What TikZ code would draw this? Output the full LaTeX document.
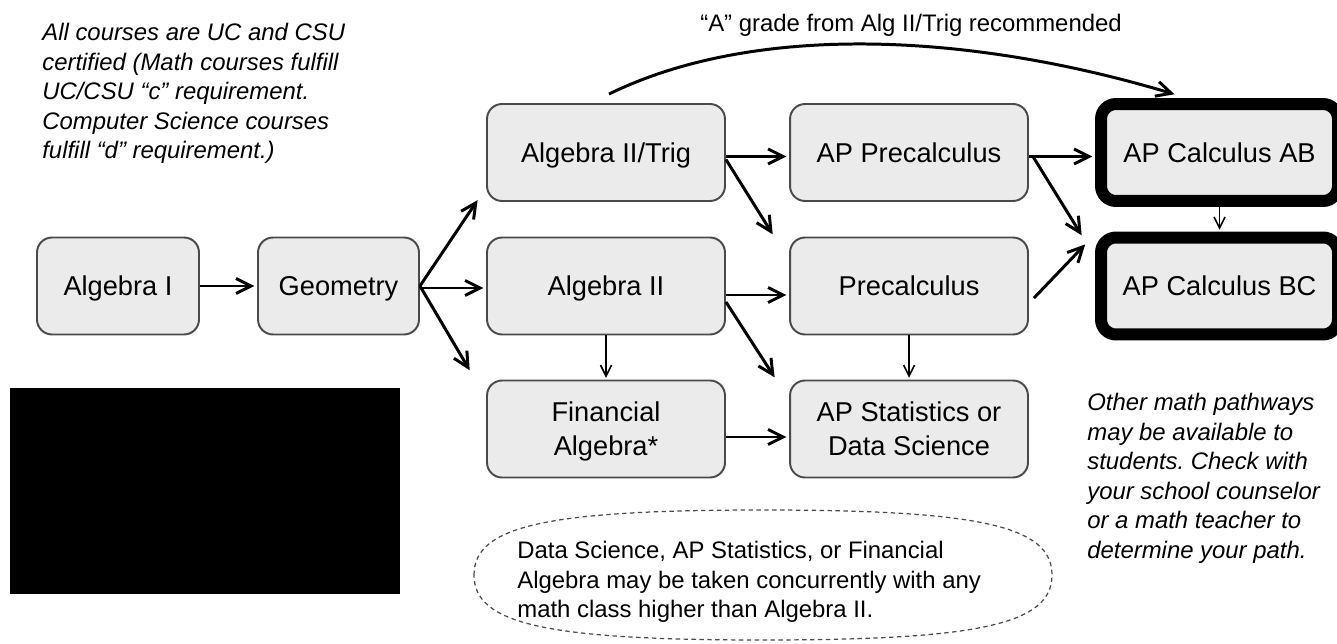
\documentclass[tikz,border=0pt]{standalone}
\usepackage{fontspec}
\setmainfont{Liberation Sans}
\frenchspacing
\usetikzlibrary{arrows.meta,calc}
\definecolor{boxfill}{HTML}{EBEBEB}
\definecolor{boxline}{HTML}{4A4A4A}
\tikzstyle{course}=[draw=boxline,fill=boxfill,line width=1.1pt,rounded corners=0.3cm,minimum width=4.76cm,minimum height=1.94cm,align=center,inner sep=2pt,text depth=0pt,font=\fontsize{15.5}{19.3}\selectfont]
\tikzstyle{calc course}=[course,draw=black,line width=0.24cm,minimum width=4.74cm]
\tikzstyle{edge}=[draw,line width=1.7pt,shorten >=1.5pt,-{Straight Barb[length=0.3cm,width=0.3cm]}]
\tikzstyle{thin edge}=[draw,line width=0.9pt,shorten >=1pt,-{Straight Barb[length=0.22cm,width=0.22cm]}]
\tikzstyle{note}=[font=\fontsize{13.6}{16.8}\selectfont,align=left,inner sep=0pt]
\tikzstyle{side note}=[note,font=\fontsize{13.6}{16.8}\selectfont\itshape,anchor=north west]
\tikzstyle{dashed bound}=[draw=boxline,line width=0.7pt,dash pattern=on 2.5pt off 2pt]

\begin{document}
\begin{tikzpicture}[x=0.02cm,y=-0.02cm]
	\useasboundingbox (0,0) rectangle (1337,644);

	% First we draw the courses
	\node[course,minimum width=3.24cm] (alg1) at (118,286) {Algebra I};
	\node[course,minimum width=3.22cm] (geo) at (338.5,286) {Geometry};
	\node[course] (trig) at (606,152.5) {Algebra II/Trig};
	\node[course] (alg2) at (606,286) {Algebra II};
	\node[course] (finalg) at (606,429) {Financial\\Algebra*};
	\node[course] (apprecalc) at (909,152.5) {AP Precalculus};
	\node[course] (precalc) at (909,286) {Precalculus};
	\node[course] (apstats) at (909,429) {AP Statistics or\\Data Science};
	\node[calc course] (calcab) at (1219.5,152.5) {AP Calculus AB};
	\node[calc course] (calcbc) at (1219.5,286) {AP Calculus BC};

	% Notes round the chart
	\node[side note] (certnote) at (42,23) {All courses are UC and CSU\\certified (Math courses fulfill\\UC/CSU “c” requirement.\\Computer Science courses\\fulfill “d” requirement.)};
	\node[side note] (pathnote) at (1087,393) {Other math pathways\\may be available to\\students. Check with\\your school counselor\\or a math teacher to\\determine your path.};
	\node[note] (gradenote) at (911,25) {“A” grade from Alg II/Trig recommended};
	\node[fill=black,minimum width=7.8cm,minimum height=4.12cm,inner sep=0pt] (photo) at (205,491) {};

	% Straight arrows between courses
	\foreach \source/\dest/\dy in {alg1/geo/0, geo/alg2/2, trig/apprecalc/4, alg2/precalc/9, finalg/apstats/8, apprecalc/calcab/4}
		\path[edge] ($(\source.east)+(0,\dy)$) -- ($(\dest.west)+(0,\dy)$);

	\path[edge] (geo.east) -- ($(trig.south west)+(-7,-4)$);
	\path[edge] (geo.east) -- ($(finalg.north west)+(-15,-7)$);
	\path[edge] ($(trig.east)+(0,7)$) -- ($(precalc.north west)+(-15,0)$);
	\path[edge] ($(alg2.east)+(0,16)$) -- ($(apstats.north west)+(-13,0)$);
	\path[edge] ($(apprecalc.east)+(4,4)$) -- ($(calcbc.north west)+(-12,6)$);
	\path[edge] ($(precalc.east)+(5,12)$) -- ($(calcbc.north west)+(-8,11)$);

	\foreach \source/\dest in {alg2/finalg, precalc/apstats, calcab/calcbc}
		\path[thin edge] (\source) -- (\dest);

	% Skip from Algebra II/Trig to AP Calculus AB
	\path[edge] ($(trig.north)+(3,-9)$) .. controls (750,25) and (960,30) .. ($(calcab.north west)+(82,-3)$);

	% Dashed bound round the concurrency note
	\draw[dashed bound] (474,575) .. controls (474,526) and (546,510) .. (763,510) .. controls (980,510) and (1052,526) .. (1052,575) .. controls (1052,624) and (980,640) .. (763,640) .. controls (546,640) and (474,624) .. (474,575) -- cycle;
	\node[note,anchor=north west] (concurnote) at (517,541) {Data Science, AP Statistics, or Financial\\Algebra may be taken concurrently with any\\math class higher than Algebra II.};
\end{tikzpicture}
\end{document}
